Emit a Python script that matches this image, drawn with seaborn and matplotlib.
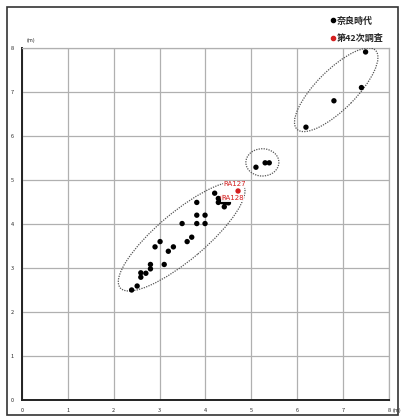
import pandas as pd
import numpy as np
import matplotlib
matplotlib.use("Agg")
import matplotlib.pyplot as plt
import seaborn as sns
from matplotlib.patches import Ellipse, Rectangle
from matplotlib.lines import Line2D

# ==========================================
# DATA
# ==========================================
nara_x = [2.39, 2.51, 2.59, 2.59, 2.70, 2.80, 2.80, 2.90, 3.01, 3.10, 3.19, 3.30,
          3.49, 3.60, 3.70, 3.81, 3.81, 3.81, 3.99, 3.99, 4.20, 4.28, 4.28, 4.35,
          4.42, 4.50, 4.41, 5.10, 5.30, 5.39, 6.19, 6.80, 7.40, 7.49]
nara_y = [2.50, 2.59, 2.79, 2.89, 2.88, 2.98, 3.08, 3.48, 3.60, 3.08, 3.38, 3.48,
          4.01, 3.60, 3.70, 4.49, 4.20, 4.01, 4.20, 4.01, 4.70, 4.58, 4.49, 4.51,
          4.48, 4.48, 4.39, 5.29, 5.39, 5.39, 6.20, 6.80, 7.10, 7.91]
chosa_x = [4.71, 4.38]
chosa_y = [4.75, 4.60]
chosa_labels = ["RA127", "RA128"]
ticks = [0, 1, 2, 3, 4, 5, 6, 7, 8]

df = pd.DataFrame({
    "x": nara_x + chosa_x,
    "y": nara_y + chosa_y,
    "group": ["奈良時代"] * len(nara_x) + ["第42次調査"] * len(chosa_x),
})

# ==========================================
# PLOT
# ==========================================
sns.set_style("white")
plt.rcParams["font.family"] = ["Noto Sans CJK JP", "DejaVu Sans"]

fig = plt.figure(figsize=(4.01, 4.18), dpi=100)
ax = fig.add_axes([0.0549, 0.0431, 0.9151, 0.8421])

sns.scatterplot(data=df, x="x", y="y", hue="group",
                palette={"奈良時代": "black", "第42次調査": "#d42020"},
                s=15, edgecolor="none", legend=False, ax=ax, zorder=4)

# groups circled with dotted ellipses
for c, w, h, a in [((3.48, 3.72), 3.56, 1.07, 41.4),
                   ((5.24, 5.40), 0.72, 0.62, 0),
                   ((6.85, 7.05), 2.48, 0.88, 46.6)]:
    ax.add_patch(Ellipse(c, w, h, angle=a, fill=False, ec="#555555",
                         ls=(0, (1, 1)), lw=0.9, zorder=3))

for lx, ly, lab in zip([4.38, 4.34], [4.90, 4.58], chosa_labels):
    ax.text(lx, ly, lab, color="#d42020", fontsize=5, va="center", ha="left",
            family="DejaVu Sans", zorder=5,
            bbox=dict(fc="white", ec="none", pad=0.3, alpha=0.9))

ax.set_xlim(0, 8)
ax.set_ylim(0, 8)
ax.set_xticks(ticks)
ax.set_yticks(ticks)
ax.set_xticklabels([str(t) for t in ticks], fontsize=4)
ax.set_yticklabels([str(t) for t in ticks], fontsize=4)
ax.tick_params(length=0, pad=6)
ax.set_xlabel("")
ax.set_ylabel("")
ax.grid(True, color="#b0b0b0", lw=0.9)
ax.set_axisbelow(True)
for side in ["top", "right"]:
    ax.spines[side].set_color("#b0b0b0")
    ax.spines[side].set_linewidth(0.9)
for side in ["left", "bottom"]:
    ax.spines[side].set_color("#222222")
    ax.spines[side].set_linewidth(1.4)

ax.text(0.1, 8.12, "(m)", fontsize=3.5, ha="left", va="bottom", family="DejaVu Sans")
ax.text(8.08, -0.18, "(m)", fontsize=3.5, ha="left", va="top", family="DejaVu Sans")

handles = [Line2D([], [], marker="o", ls="none", color="black", ms=3),
           Line2D([], [], marker="o", ls="none", color="#d42020", ms=3)]
leg = fig.legend(handles, ["奈良時代", "第42次調査"], loc="upper left",
                 bbox_to_anchor=(0.80, 0.98), frameon=False, fontsize=6.5,
                 handletextpad=0.1, labelspacing=0.9, handlelength=0.8)
for t in leg.get_texts():
    t.set_fontweight("bold")

fig.patches.append(Rectangle((0.018, 0.008), 0.975, 0.975, transform=fig.transFigure,
                             fill=False, ec="#333333", lw=1.2))

fig.savefig("out.png", dpi=100)
